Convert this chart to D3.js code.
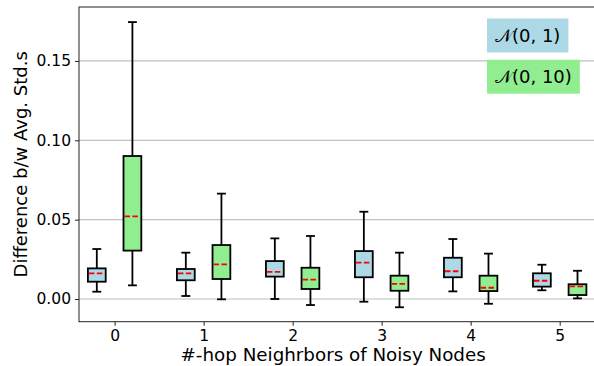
<!DOCTYPE html>
<html>
<head>
<meta charset="utf-8">
<script src="https://cdn.jsdelivr.net/npm/d3@7"></script>
<style>
  html, body { margin: 0; padding: 0; background: #fff; }
  svg text { font-family: "DejaVu Sans", sans-serif; fill: #000; }
</style>
</head>
<body>
<svg id="chart" width="594" height="366"></svg>
<script>
// ---- data ----
const categories = [0, 1, 2, 3, 4, 5];
const seriesNames = ["\u{1D4A9}(0, 1)", "\u{1D4A9}(0, 10)"];
const seriesColors = ["#add8e6", "#90ee90"];
// N(0,1) boxes
const s1Low    = [0.0046, 0.0019, 0.0000, -0.0017, 0.0048, 0.0055];
const s1Q1     = [0.0109, 0.0118, 0.0141, 0.0137, 0.0137, 0.0078];
const s1Median = [0.0162, 0.0162, 0.0171, 0.0229, 0.0175, 0.0115];
const s1Q3     = [0.0193, 0.0189, 0.0239, 0.0302, 0.0260, 0.0162];
const s1High   = [0.0315, 0.0292, 0.0382, 0.0550, 0.0378, 0.0216];
// N(0,10) boxes
const s2Low    = [0.0086, -0.0002, -0.0038, -0.0052, -0.0030, 0.0004];
const s2Q1     = [0.0305, 0.0126, 0.0063, 0.0052, 0.0050, 0.0025];
const s2Median = [0.0521, 0.0218, 0.0122, 0.0095, 0.0071, 0.0080];
const s2Q3     = [0.0901, 0.0340, 0.0197, 0.0147, 0.0147, 0.0093];
const s2High   = [0.1745, 0.0664, 0.0397, 0.0292, 0.0286, 0.0178];
const yTicks = [0.00, 0.05, 0.10, 0.15];
const xLabel = "#-hop Neighrbors of Noisy Nodes";
const yLabel = "Difference b/w Avg. Std.s";

// ---- build ----
const series = [
  {low: s1Low, q1: s1Q1, med: s1Median, q3: s1Q3, high: s1High, offset: -0.2},
  {low: s2Low, q1: s2Q1, med: s2Median, q3: s2Q3, high: s2High, offset: 0.2}
];
const boxW = 0.2;
const LW = 1.8;

const svg = d3.select("#chart");
const L = 79, R = 595.3, T = 7, B = 321.7;
const x = d3.scaleLinear().domain([-0.4, 5.4]).range([L, R]);
const y = d3.scaleLinear().domain([-0.0143, 0.184]).range([B, T]);

// grid
svg.append("g").selectAll("line").data(yTicks).join("line")
  .attr("x1", L).attr("x2", R)
  .attr("y1", d => y(d)).attr("y2", d => y(d))
  .attr("stroke", "#c0c0c0").attr("stroke-width", 1.2);

// boxes
series.forEach((s, si) => {
  const g = svg.append("g");
  const hw = x(boxW / 2) - x(0);
  const cw = hw / 2;
  categories.forEach((c, i) => {
    const cx = x(c + s.offset);
    g.append("line").attr("x1", cx).attr("x2", cx).attr("y1", y(s.q3[i])).attr("y2", y(s.high[i]))
      .attr("stroke", "#000").attr("stroke-width", LW);
    g.append("line").attr("x1", cx).attr("x2", cx).attr("y1", y(s.q1[i])).attr("y2", y(s.low[i]))
      .attr("stroke", "#000").attr("stroke-width", LW);
    [s.high[i], s.low[i]].forEach(v => {
      g.append("line").attr("x1", cx - cw).attr("x2", cx + cw).attr("y1", y(v)).attr("y2", y(v))
        .attr("stroke", "#000").attr("stroke-width", LW);
    });
    g.append("rect").attr("x", cx - hw).attr("width", 2 * hw)
      .attr("y", y(s.q3[i])).attr("height", y(s.q1[i]) - y(s.q3[i]))
      .attr("fill", seriesColors[si]).attr("stroke", "#000").attr("stroke-width", LW);
    g.append("line").attr("x1", cx - hw + 1).attr("x2", cx + hw - 1)
      .attr("y1", y(s.med[i])).attr("y2", y(s.med[i]))
      .attr("stroke", "red").attr("stroke-width", LW).attr("stroke-dasharray", "5.5,2.4");
  });
});

// axes
const xAxis = d3.axisBottom(x).tickValues(categories).tickFormat(d3.format("d")).tickSize(4).tickPadding(4);
const yAxis = d3.axisLeft(y).tickValues(yTicks).tickFormat(d3.format(".2f")).tickSize(4).tickPadding(4);
const gx = svg.append("g").attr("transform", `translate(0,${B})`).call(xAxis);
const gy = svg.append("g").attr("transform", `translate(${L},0)`).call(yAxis);
[gx, gy].forEach(g => {
  g.select(".domain").remove();
  g.selectAll(".tick line").attr("stroke", "#222").attr("stroke-width", 1);
  g.selectAll(".tick text").attr("font-size", 15.5).attr("font-family", "DejaVu Sans").attr("fill", "#000");
});
// frame
svg.append("rect").attr("x", L).attr("y", T).attr("width", R - L).attr("height", B - T)
  .attr("fill", "none").attr("stroke", "#222").attr("stroke-width", 1);

// axis labels
svg.append("text").attr("x", (L + R) / 2 - 4).attr("y", 361).attr("text-anchor", "middle")
  .attr("font-size", 18.3).text(xLabel);
svg.append("text").attr("transform", `translate(27,${(T + B) / 2}) rotate(-90)`)
  .attr("text-anchor", "middle").attr("font-size", 18).text(yLabel);

// legend boxes
const legY = [35.5, 76.7];
seriesNames.forEach((name, i) => {
  const g = svg.append("g");
  const rect = g.append("rect");
  const t = g.append("text").attr("x", 495).attr("y", legY[i]).attr("dy", "0.35em")
    .attr("font-size", 18).text(name);
  const bb = t.node().getBBox();
  rect.attr("x", bb.x - 8).attr("width", bb.width + 16)
    .attr("y", legY[i] - 17).attr("height", 34).attr("fill", seriesColors[i]);
});
</script>
</body>
</html>
